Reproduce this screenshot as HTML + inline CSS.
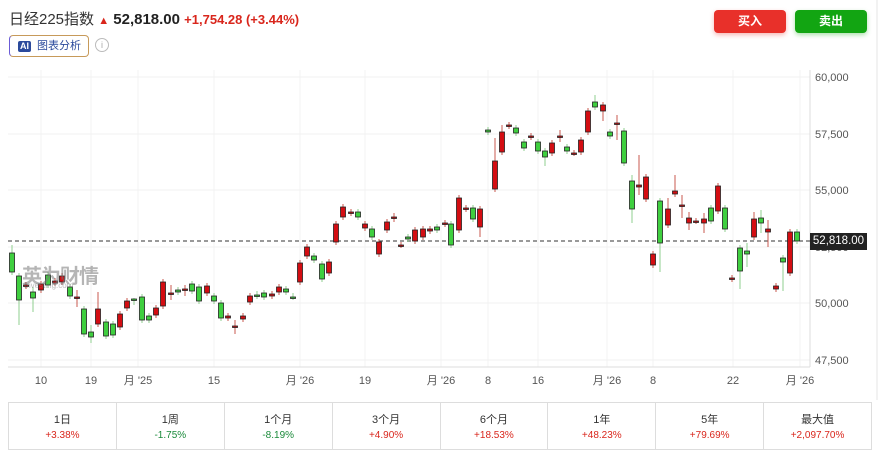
<!DOCTYPE html>
<html><head><meta charset="utf-8"><style>
body{margin:0;width:879px;height:451px;background:#fff;font-family:"Liberation Sans","Noto Sans CJK SC",sans-serif;overflow:hidden;position:relative}
.a{position:absolute;white-space:nowrap}
</style></head><body>
<div class="a" style="left:9px;top:8px;font-size:15px;color:#333">日经225指数 <span style="color:#d9261c;font-size:11px">&#9650;</span> <b style="color:#222">52,818.00</b> <span style="color:#d9261c;font-size:13px;font-weight:bold">+1,754.28 (+3.44%)</span></div>
<div class="a" style="left:9px;top:35px;width:78px;height:20px;border:1px solid #c79a5a;border-left-color:#6b5bd6;border-radius:4px;font-size:11px;color:#2b4a9c;line-height:20px"><span style="display:inline-block;background:#2b4a9c;color:#fff;font-size:9px;font-weight:bold;padding:0 2px;margin:0 6px 0 8px;line-height:11px;border-radius:2px">AI</span>图表分析</div>
<div class="a" style="left:95px;top:38px;width:12px;height:12px;border:1px solid #bbb;border-radius:50%;font-size:9px;color:#aaa;text-align:center;line-height:12px">i</div>
<div class="a" style="left:714px;top:10px;width:72px;height:23px;background:#e8302a;border-radius:4px;color:#fff;font-size:12px;font-weight:bold;text-align:center;line-height:23px;box-shadow:0 2px 5px rgba(232,48,42,.35)">买入</div>
<div class="a" style="left:795px;top:10px;width:72px;height:23px;background:#12a512;border-radius:4px;color:#fff;font-size:12px;font-weight:bold;text-align:center;line-height:23px;box-shadow:0 2px 5px rgba(18,165,18,.35)">卖出</div>
<svg class="a" style="left:0;top:0" width="879" height="400" id="s"></svg>
<div class="a" style="left:22px;top:260px;font-size:20px;font-weight:bold;color:rgba(120,120,120,.55);letter-spacing:-1px">英为财情</div>
<div class="a" style="left:24px;top:281px;font-size:8px;color:rgba(120,120,120,.5)">Investing.com</div>
<div class="a" style="left:810px;top:233px;width:57px;height:17px;background:#222;color:#fff;font-size:11.5px;line-height:17px;text-align:center">52,818.00</div>
<div class="a" style="left:8px;top:402px;width:862px;height:46px;border:1px solid #ddd;display:flex">
<script>
var p=[["1日","+3.38%",1],["1周","-1.75%",0],["1个月","-8.19%",0],["3个月","+4.90%",1],["6个月","+18.53%",1],["1年","+48.23%",1],["5年","+79.69%",1],["最大值","+2,097.70%",1]];
p.forEach(function(q,i){document.write('<div style="flex:1;text-align:center;'+(i?'border-left:1px solid #ddd;':'')+'"><div style="font-size:11px;color:#333;margin-top:8px">'+q[0]+'</div><div style="font-size:10px;margin-top:3px;color:'+(q[2]?'#d9261c':'#1a8a3a')+'">'+q[1]+'</div></div>')});
</script>
</div>
<script>
var s='';
[77,134,190,247,303,360].forEach(function(y){s+='<line x1="8" x2="810" y1="'+y+'" y2="'+y+'" stroke="#f0f0f0"/>'});
var xl=[[41,"10"],[91,"19"],[138,"月 '25"],[214,"15"],[300,"月 '26"],[365,"19"],[441,"月 '26"],[488,"8"],[538,"16"],[607,"月 '26"],[653,"8"],[733,"22"],[800,"月 '26"]];
xl.forEach(function(a){s+='<line x1="'+a[0]+'" x2="'+a[0]+'" y1="70" y2="367" stroke="#f3f3f3"/><text x="'+a[0]+'" y="384" font-size="11" fill="#555" text-anchor="middle">'+a[1]+'</text>'});
s+='<line x1="8" x2="810" y1="367" y2="367" stroke="#ddd"/><line x1="810" x2="810" y1="70" y2="367" stroke="#ddd"/><line x1="877" x2="877" y1="0" y2="400" stroke="#e5e5e5"/>';
[["60,000",77],["57,500",134],["55,000",190],["52,500",247],["50,000",303],["47,500",360]].forEach(function(a){s+='<text x="815" y="'+(a[1]+4)+'" font-size="11" fill="#555">'+a[0]+'</text>'});
s+='<line x1="8" x2="810" y1="241" y2="241" stroke="#333" stroke-dasharray="4,3"/>';
var c=[[12,253,272,'g',245],[19,276,300,'g',0,325],[26,285,286,'r'],[33,292,298,'g',287,312],[41,284,290,'r'],[48,275,285,'g'],[55,281,283,'r'],[62,276,282,'r'],[70,287,296,'g'],[77,297,298,'r',290,307],[84,309,334,'g'],[91,332,337,'g',325,343],[98,309,324,'r',292],[106,322,336,'g'],[113,324,335,'g'],[120,314,327,'r'],[127,301,308,'r'],[134,299,300,'g',298,305],[142,297,320,'g'],[149,316,320,'g'],[156,308,315,'r'],[163,282,306,'r'],[171,293,293,'r',285,300],[178,290,292,'g'],[185,289,289,'r',285,296],[192,284,291,'g'],[199,287,301,'g'],[207,286,293,'r'],[214,296,301,'g'],[221,303,318,'g'],[228,316,318,'r'],[235,326,326,'r',320,334],[243,316,319,'r'],[250,296,302,'r'],[257,295,295,'g',291,299],[264,293,297,'g'],[272,294,296,'r'],[279,287,292,'r'],[286,289,292,'g'],[293,297,297,'g',293,300],[300,263,282,'r'],[307,247,256,'r'],[314,256,260,'g'],[322,264,279,'g'],[329,262,273,'r'],[336,224,242,'r'],[343,207,217,'r'],[351,212,213,'r'],[358,212,217,'g'],[365,224,228,'r'],[372,229,237,'g'],[379,242,254,'r'],[387,222,230,'r'],[394,217,217,'r',213,222],[401,245,245,'r'],[408,237,239,'g'],[415,230,241,'r'],[423,229,237,'r'],[430,229,231,'r'],[437,227,230,'g'],
[445,223,224,'r'],[451,224,245,'g'],[459,198,230,'r'],[466,208,209,'r'],[473,208,219,'g'],[480,209,227,'r',0,237],[488,130,132,'g'],[495,161,189,'r',138],[502,132,152,'r',125],[509,125,126,'r'],[516,128,133,'g'],[524,142,148,'g'],[531,136,137,'r'],[538,142,151,'g'],[545,151,157,'g',0,166],[552,143,153,'r'],[560,136,136,'r',130,142],[567,147,151,'g'],[574,153,153,'r'],[581,140,152,'r'],[588,111,132,'r'],[595,102,107,'g',95],[603,105,111,'r',0,121],[610,132,136,'g'],[617,123,124,'r',115,140],[624,131,163,'g'],[632,181,209,'g',175,223],[639,185,187,'r',155,195],[646,177,199,'r'],[653,254,265,'r'],[660,201,243,'g',0,272],[668,209,225,'r',198],[675,191,194,'r',175],[682,205,205,'r',195,218],[689,218,223,'r',212,230],[696,221,221,'r'],[704,219,223,'r',213,233],[711,208,221,'g'],[718,186,211,'r'],[725,208,229,'g'],[732,278,279,'r'],[740,248,271,'g',0,289],[747,251,254,'g',243,267],[754,219,237,'r',212],[761,218,223,'g',210,233],[768,229,232,'r',220,247],[776,286,289,'r'],[783,258,262,'g',0,291],[790,232,273,'r'],[797,232,241,'g']];
c.forEach(function(k){var x=k[0],t=k[1],b=k[2],r=k[3]=='r',f=r?'#d40d12':'#3fcf3f',wt=k[4]||t-3,wb=k[5]||b+3;
s+='<line x1="'+x+'" x2="'+x+'" y1="'+wt+'" y2="'+wb+'" stroke="'+(r?'#c8584f':'#8fcf8f')+'" stroke-width="1"/>';
var h=Math.max(b-t,1.5);s+='<rect x="'+(x-2.5)+'" y="'+t+'" width="5" height="'+h+'" fill="'+f+'" stroke="#222" stroke-width="0.8"/>';});
document.getElementById('s').innerHTML=s;
</script>
</body></html>
